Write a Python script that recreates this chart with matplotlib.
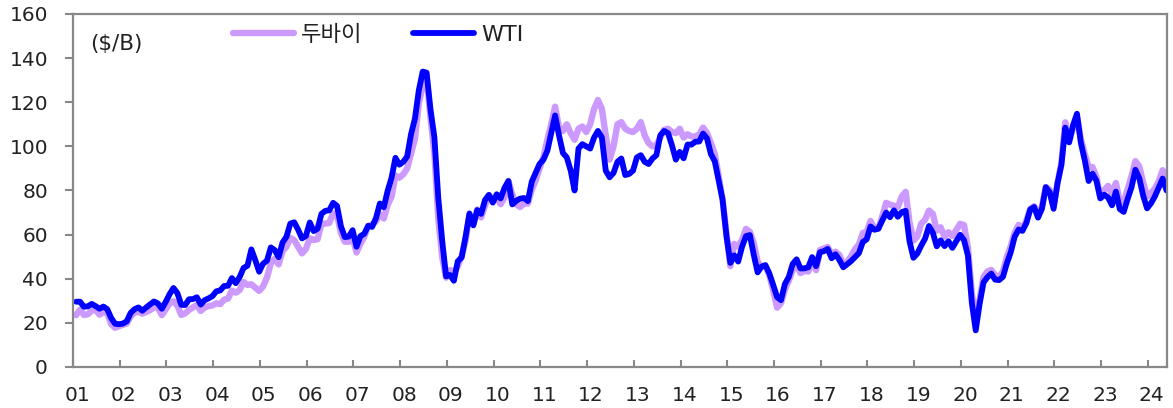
import numpy as np
import matplotlib
matplotlib.use('Agg')
import matplotlib.pyplot as plt
import matplotlib.transforms as mtransforms

plt.rcParams['font.family'] = ['DejaVu Sans', 'Noto Sans CJK KR']

# 월평균 유가 ($/B), 2001.01 ~ 2024.05
wti = [
    29.6, 29.6, 27.3, 27.5, 28.6, 27.6, 26.4, 27.4, 26.2, 22.2, 19.6, 19.4,
    19.7, 20.7, 24.5, 26.2, 27.0, 25.5, 27.0, 28.4, 29.7, 28.8, 26.4, 29.5,
    33.0, 35.8, 33.5, 28.2, 28.1, 30.7, 30.8, 31.6, 28.3, 30.3, 31.1, 32.1,
    34.3, 34.7, 36.7, 36.8, 40.3, 38.0, 40.8, 44.9, 45.9, 53.3, 48.5, 43.2,
    46.8, 48.2, 54.2, 53.0, 49.8, 56.4, 59.0, 65.0, 65.6, 62.3, 58.3, 59.4,
    65.5, 61.6, 62.7, 69.4, 70.8, 71.0, 74.4, 73.0, 63.8, 58.9, 59.1, 62.0,
    54.5, 59.3, 60.4, 64.0, 63.5, 67.5, 74.1, 72.4, 79.9, 85.8, 94.8, 91.7,
    93.0, 95.4, 105.5, 112.6, 125.4, 133.9, 133.4, 116.7, 104.1, 76.6, 57.3, 41.1,
    41.7, 39.1, 47.9, 49.7, 59.0, 69.6, 64.2, 71.1, 69.4, 75.7, 78.0, 74.5,
    78.3, 76.4, 81.2, 84.3, 73.7, 75.3, 76.3, 76.6, 75.2, 84.0, 88.0, 92.0,
    94.0, 98.0, 106.0, 114.0, 105.0, 97.0, 95.0, 89.0, 80.0, 99.0, 101.0, 100.0,
    99.0, 104.0, 107.0, 104.0, 89.0, 86.0, 88.0, 93.0, 94.5, 87.0, 87.5, 89.0,
    95.0, 96.0, 93.0, 92.0, 94.5, 96.0, 105.0, 107.0, 106.0, 100.5, 94.0, 97.5,
    94.6, 100.8, 100.8, 102.1, 102.2, 105.8, 103.6, 96.5, 93.2, 84.4, 75.8, 59.3,
    47.2, 50.6, 47.8, 54.5, 59.3, 59.8, 50.9, 42.9, 45.5, 46.2, 42.4, 37.2,
    31.7, 30.3, 37.6, 40.8, 46.7, 48.8, 44.7, 44.7, 45.2, 49.8, 45.7, 52.0,
    52.5, 53.5, 49.3, 51.1, 48.5, 45.2, 46.6, 48.0, 49.8, 51.6, 56.6, 57.9,
    63.7, 62.2, 62.7, 66.3, 70.0, 67.9, 71.0, 68.1, 70.2, 70.8, 57.0, 49.5,
    51.4, 55.0, 58.2, 63.9, 60.8, 54.7, 57.4, 54.8, 57.0, 54.0, 57.0, 59.9,
    57.5, 50.5, 29.2, 16.6, 28.6, 38.3, 40.7, 42.3, 39.6, 39.4, 40.9, 47.0,
    52.0, 59.0, 62.3, 61.7, 65.2, 71.4, 72.5, 67.7, 71.7, 81.5, 79.2, 71.7,
    83.2, 91.6, 108.5, 101.8, 109.6, 114.8, 101.6, 93.7, 84.3, 87.6, 84.4, 76.4,
    78.1, 76.8, 73.3, 79.5, 71.6, 70.3, 76.1, 81.4, 89.4, 85.6, 77.7, 71.9,
    74.2, 77.3, 81.3, 85.4, 80.0,
]

dubai = [
    23.5, 26.0, 23.6, 23.9, 25.6, 25.9, 23.7, 24.9, 24.4, 19.4, 17.8, 18.5,
    19.1, 19.7, 22.9, 24.6, 25.0, 24.2, 25.0, 25.8, 27.0, 26.9, 23.5, 26.1,
    28.8, 29.8, 27.8, 23.6, 24.3, 25.9, 27.0, 28.1, 25.4, 27.0, 27.6, 27.9,
    28.9, 28.5, 30.5, 31.0, 34.6, 33.7, 34.9, 38.5, 37.2, 37.5, 36.0, 34.5,
    36.5, 40.5, 47.0, 49.0, 46.5, 52.5, 54.5, 58.5, 57.5, 54.5, 51.5, 53.5,
    58.3, 57.6, 57.9, 64.9, 65.0, 65.3, 69.6, 69.1, 60.7, 56.8, 56.8, 58.8,
    51.9, 55.8, 59.0, 63.8, 64.6, 66.0, 69.3, 67.3, 73.5, 77.2, 86.8, 85.8,
    87.3, 90.0, 96.8, 103.4, 119.4, 127.8, 131.2, 112.9, 96.9, 67.5, 49.8, 40.5,
    43.9, 43.1, 45.6, 50.2, 57.4, 68.6, 64.9, 71.4, 67.8, 73.2, 77.9, 75.5,
    76.7, 73.8, 76.8, 84.3, 78.2, 73.8, 72.5, 74.1, 74.1, 80.3, 84.5, 90.0,
    95.0, 103.0, 110.0, 118.0, 108.5, 107.0, 110.0, 106.0, 103.0, 108.0, 109.0, 106.5,
    110.0, 117.0, 121.0, 117.0, 105.0, 94.0, 100.0, 110.0, 111.0, 108.0, 107.0, 106.5,
    108.0, 111.0, 105.0, 101.5, 100.0, 100.5, 104.0, 107.5, 108.0, 106.5, 106.0, 108.0,
    104.0, 105.5, 104.5, 104.5, 105.5, 108.5, 106.0, 101.5, 96.5, 86.5, 76.0, 60.5,
    45.7, 55.8, 54.6, 57.6, 62.6, 61.3, 56.2, 47.7, 45.4, 45.8, 41.7, 34.6,
    26.9, 29.0, 35.1, 39.0, 44.0, 46.3, 42.6, 43.5, 43.3, 48.1, 43.9, 53.0,
    53.7, 54.4, 51.0, 52.2, 50.8, 46.5, 47.6, 50.2, 53.4, 55.5, 60.7, 61.3,
    66.2, 62.7, 62.7, 68.3, 74.4, 73.6, 73.1, 72.5, 77.2, 79.4, 65.6, 57.3,
    59.1, 65.0, 66.7, 70.9, 69.4, 61.8, 63.3, 59.1, 61.1, 59.4, 62.0, 64.9,
    64.3, 54.2, 33.7, 20.4, 30.5, 40.8, 43.3, 44.0, 41.5, 40.7, 43.4, 49.8,
    54.8, 60.9, 64.4, 62.9, 66.3, 71.6, 72.9, 69.5, 72.6, 81.6, 80.3, 73.2,
    83.5, 92.4, 110.9, 102.8, 108.2, 113.3, 103.2, 96.6, 90.6, 90.6, 86.3, 76.9,
    80.2, 82.1, 78.4, 83.4, 75.0, 74.8, 80.4, 86.5, 93.3, 90.9, 83.6, 77.3,
    78.9, 80.8, 84.2, 89.2, 84.0,
]

years = [f'{y:02d}' for y in range(1, 25)]
yticks = list(range(0, 161, 20))

COR_DUBAI = '#CC99FF'
COR_WTI = '#0000FF'
CINZA = '#888888'
TEXTO = '#222222'

# posição: anos desde jan/2001
x = (np.arange(len(wti)) + 0.8) / 12.0

fig = plt.figure(figsize=(11.73, 4.08), dpi=100)
ax = fig.add_axes([73 / 1173, 1 - 367 / 408, (1167 - 73) / 1173, (367 - 14) / 408])

ax.plot(x, dubai, color=COR_DUBAI, linewidth=4.6, label='두바이',
        solid_joinstyle='round', solid_capstyle='round')
ax.plot(x, wti, color=COR_WTI, linewidth=4.2, label='WTI',
        solid_joinstyle='round', solid_capstyle='round')

ax.set_xlim(0, x[-1] + 0.01)
ax.set_ylim(0, 160)

ax.set_yticks(yticks)
ax.set_xticks(range(len(years)))
ax.set_xticklabels(years)

ax.tick_params(axis='y', direction='out', length=6, width=1.5, color=CINZA,
               labelsize=14.5, pad=12, labelcolor=TEXTO)
ax.tick_params(axis='x', direction='in', length=5, width=1.5, color=CINZA,
               labelsize=14.5, pad=14, labelcolor=TEXTO)

desloc = mtransforms.ScaledTranslation(4 / 100, 0, fig.dpi_scale_trans)
for lab in ax.get_xticklabels():
    lab.set_transform(lab.get_transform() + desloc)

for s in ax.spines.values():
    s.set_color(CINZA)
    s.set_linewidth(1.6)

ax.text(0.0155, 0.915, '($/B)', transform=ax.transAxes, fontsize=15.5,
        ha='left', va='center', color=TEXTO)

leg = ax.legend(loc='upper left', bbox_to_anchor=(0.146, 0.975), ncol=2, frameon=False,
                fontsize=16, handlelength=2.75, handletextpad=0.3, columnspacing=2.3,
                borderpad=0, borderaxespad=0)
for t in leg.get_texts():
    t.set_color(TEXTO)
leg.get_texts()[0].set_family(['Noto Sans CJK KR', 'DejaVu Sans'])

fig.savefig('out.png', dpi=100)
